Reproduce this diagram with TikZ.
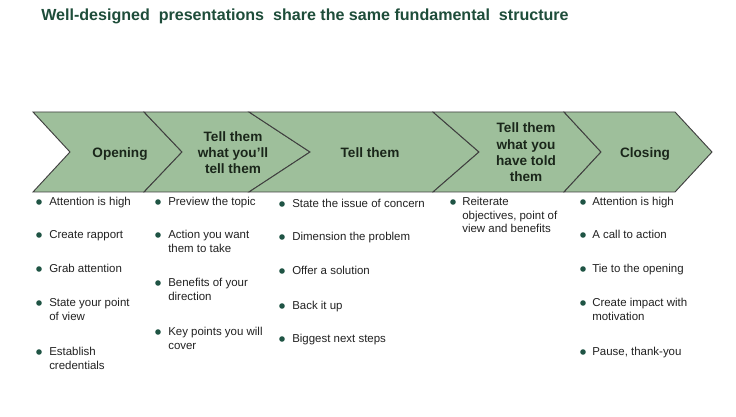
\documentclass[tikz,border=0pt]{standalone}
\usepackage{fontspec}
\setmainfont{Liberation Sans}
\definecolor{chev}{HTML}{9EBF9B}
\definecolor{titlegreen}{HTML}{1E4D3A}
\definecolor{dotgreen}{HTML}{1F5444}
\definecolor{bodytext}{HTML}{222222}
\definecolor{chevtext}{HTML}{1A261A}
\begin{document}
\begin{tikzpicture}[x=0.75pt,y=-0.75pt,
  chevbox/.style={fill=chev,draw=black!75,line width=0.7pt,line join=miter},
  chevlabel/.style={font=\bfseries\fontsize{10.2}{12.2}\selectfont,text=chevtext,align=center,inner sep=0pt},
  itemtext/.style={font=\fontsize{8.6}{10.1}\selectfont,text=bodytext,align=left,anchor=north west,inner sep=0pt},
  bulletdot/.style={circle,fill=dotgreen,minimum size=4.2pt,inner sep=0pt}]
\useasboundingbox[fill=white] (0,0) rectangle (736,417);
% title
\node[anchor=west,inner sep=0pt,text=titlegreen,font=\bfseries\fontsize{12.05}{14}\selectfont] (title) at (41,16.5)
  {Well-designed\ \ presentations\ \ share the same fundamental\ \ structure};
% chevrons
\def\ty{112}\def\by{192}\def\my{152}
\draw[chevbox] (33,\ty) -- (144,\ty) -- (182,\my) -- (144,\by) -- (33,\by) -- (70,\my) -- cycle;
\draw[chevbox] (144,\ty) -- (249,\ty) -- (310,\my) -- (249,\by) -- (144,\by) -- (182,\my) -- cycle;
\draw[chevbox] (249,\ty) -- (433,\ty) -- (479,\my) -- (433,\by) -- (249,\by) -- (310,\my) -- cycle;
\draw[chevbox] (433,\ty) -- (564,\ty) -- (601,\my) -- (564,\by) -- (433,\by) -- (479,\my) -- cycle;
\draw[chevbox] (564,\ty) -- (675,\ty) -- (712,\my) -- (675,\by) -- (564,\by) -- (601,\my) -- cycle;
\node[chevlabel] (l1) at (120,154) {Opening};
\node[chevlabel] (l2) at (233,152.5) {Tell them\\what you'll\\tell them};
\node[chevlabel] (l3) at (370,153) {Tell them};
\node[chevlabel,font=\bfseries\fontsize{10.2}{12.3}\selectfont] (l4) at (526,152.5) {Tell them\\what you\\have told\\them};
\node[chevlabel] (l5) at (645,154) {Closing};
% bullets
\newcommand\bitem[5]{%
  \node[bulletdot] (d#1) at (#2,#4) {};
  \node[itemtext] (t#1) at (#3,#4-5.8) {\strut #5};}
% column 1
\bitem{a1}{39}{49}{202}{Attention is high}
\bitem{a2}{39}{49}{235}{Create rapport}
\bitem{a3}{39}{49}{269}{Grab attention}
\bitem{a4}{39}{49}{303}{State your point\\of view}
\bitem{a5}{39}{49}{352}{Establish\\credentials}
% column 2
\bitem{b1}{158}{168}{202}{Preview the topic}
\bitem{b2}{158}{168}{235}{Action you want\\them to take}
\bitem{b3}{158}{168}{283}{Benefits of your\\direction}
\bitem{b4}{158}{168}{332}{Key points you will\\cover}
% column 3
\bitem{c1}{282}{292}{204}{State the issue of concern}
\bitem{c2}{282}{292}{237}{Dimension the problem}
\bitem{c3}{282}{292}{271}{Offer a solution}
\bitem{c4}{282}{292}{306}{Back it up}
\bitem{c5}{282}{292}{339}{Biggest next steps}
% column 4
\bitem{e1}{453}{462}{202}{Reiterate\\objectives, point of\\view and benefits}
% column 5
\bitem{f1}{583}{592}{202}{Attention is high}
\bitem{f2}{583}{592}{235}{A call to action}
\bitem{f3}{583}{592}{269}{Tie to the opening}
\bitem{f4}{583}{592}{303}{Create impact with\\motivation}
\bitem{f5}{583}{592}{352}{Pause, thank-you}
\end{tikzpicture}
\end{document}
